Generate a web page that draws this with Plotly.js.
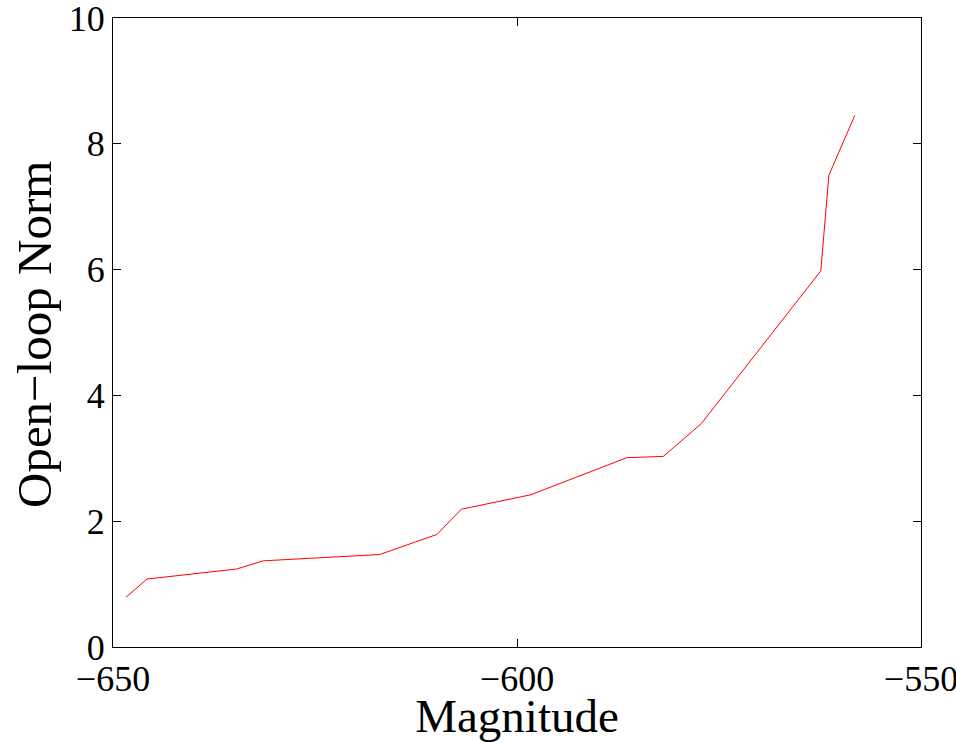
<!DOCTYPE html>
<html>
<head>
<meta charset="utf-8">
<script src="https://cdn.plot.ly/plotly-3.0.1.min.js"></script>
<style>html,body{margin:0;padding:0;background:#fff;}#chart{width:956px;height:742px;}</style>
</head>
<body>
<div id="chart"></div>
<script>
const magnitude = [-648.4, -645.8, -634.7, -631.4, -617.0, -609.9, -606.9, -598.3, -586.4, -581.9, -577.2, -562.4, -561.4, -558.2];
const openLoopNorm = [0.79, 1.08, 1.24, 1.37, 1.47, 1.79, 2.19, 2.42, 3.01, 3.03, 3.55, 5.98, 7.50, 8.45];
const xTicks = [-650, -600, -550];
const xTickLabels = ['\u2212650', '\u2212600', '\u2212550'];
const yTicks = [0, 2, 4, 6, 8, 10];

const font = 'Liberation Serif, Times New Roman, serif';
Plotly.newPlot('chart', [{
  x: magnitude, y: openLoopNorm, type: 'scatter', mode: 'lines',
  line: {color: '#ff0000', width: 1}
}], {
  width: 956, height: 742,
  margin: {l: 113, r: 35, t: 18, b: 95},
  paper_bgcolor: '#fff', plot_bgcolor: '#fff',
  showlegend: false,
  font: {family: font, color: '#000'},
  xaxis: {
    range: [-650, -550], tickvals: xTicks, ticktext: xTickLabels,
    ticks: 'inside', ticklen: 8, tickcolor: '#000', mirror: 'ticks',
    showline: true, linecolor: '#000', linewidth: 1, showgrid: false, zeroline: false,
    ticklabeloverflow: 'allow', automargin: false,
    tickfont: {family: font, size: 36, color: '#000'},
    title: {text: 'Magnitude', font: {family: font, size: 47, color: '#000'}, standoff: 0}
  },
  yaxis: {
    range: [0, 10], tickvals: yTicks,
    ticks: 'inside', ticklen: 8, tickcolor: '#000', mirror: 'ticks',
    showline: true, linecolor: '#000', linewidth: 1, showgrid: false, zeroline: false,
    ticklabeloverflow: 'allow', automargin: false,
    tickfont: {family: font, size: 36, color: '#000'}
  },
  annotations: [{
    text: 'Open\u2212loop Norm', textangle: -90, showarrow: false,
    xref: 'paper', yref: 'paper', x: -0.097, y: 0.497, xanchor: 'center', yanchor: 'middle',
    font: {family: font, size: 49, color: '#000'}
  }]
}, {displayModeBar: false, staticPlot: true});
</script>
</body>
</html>
